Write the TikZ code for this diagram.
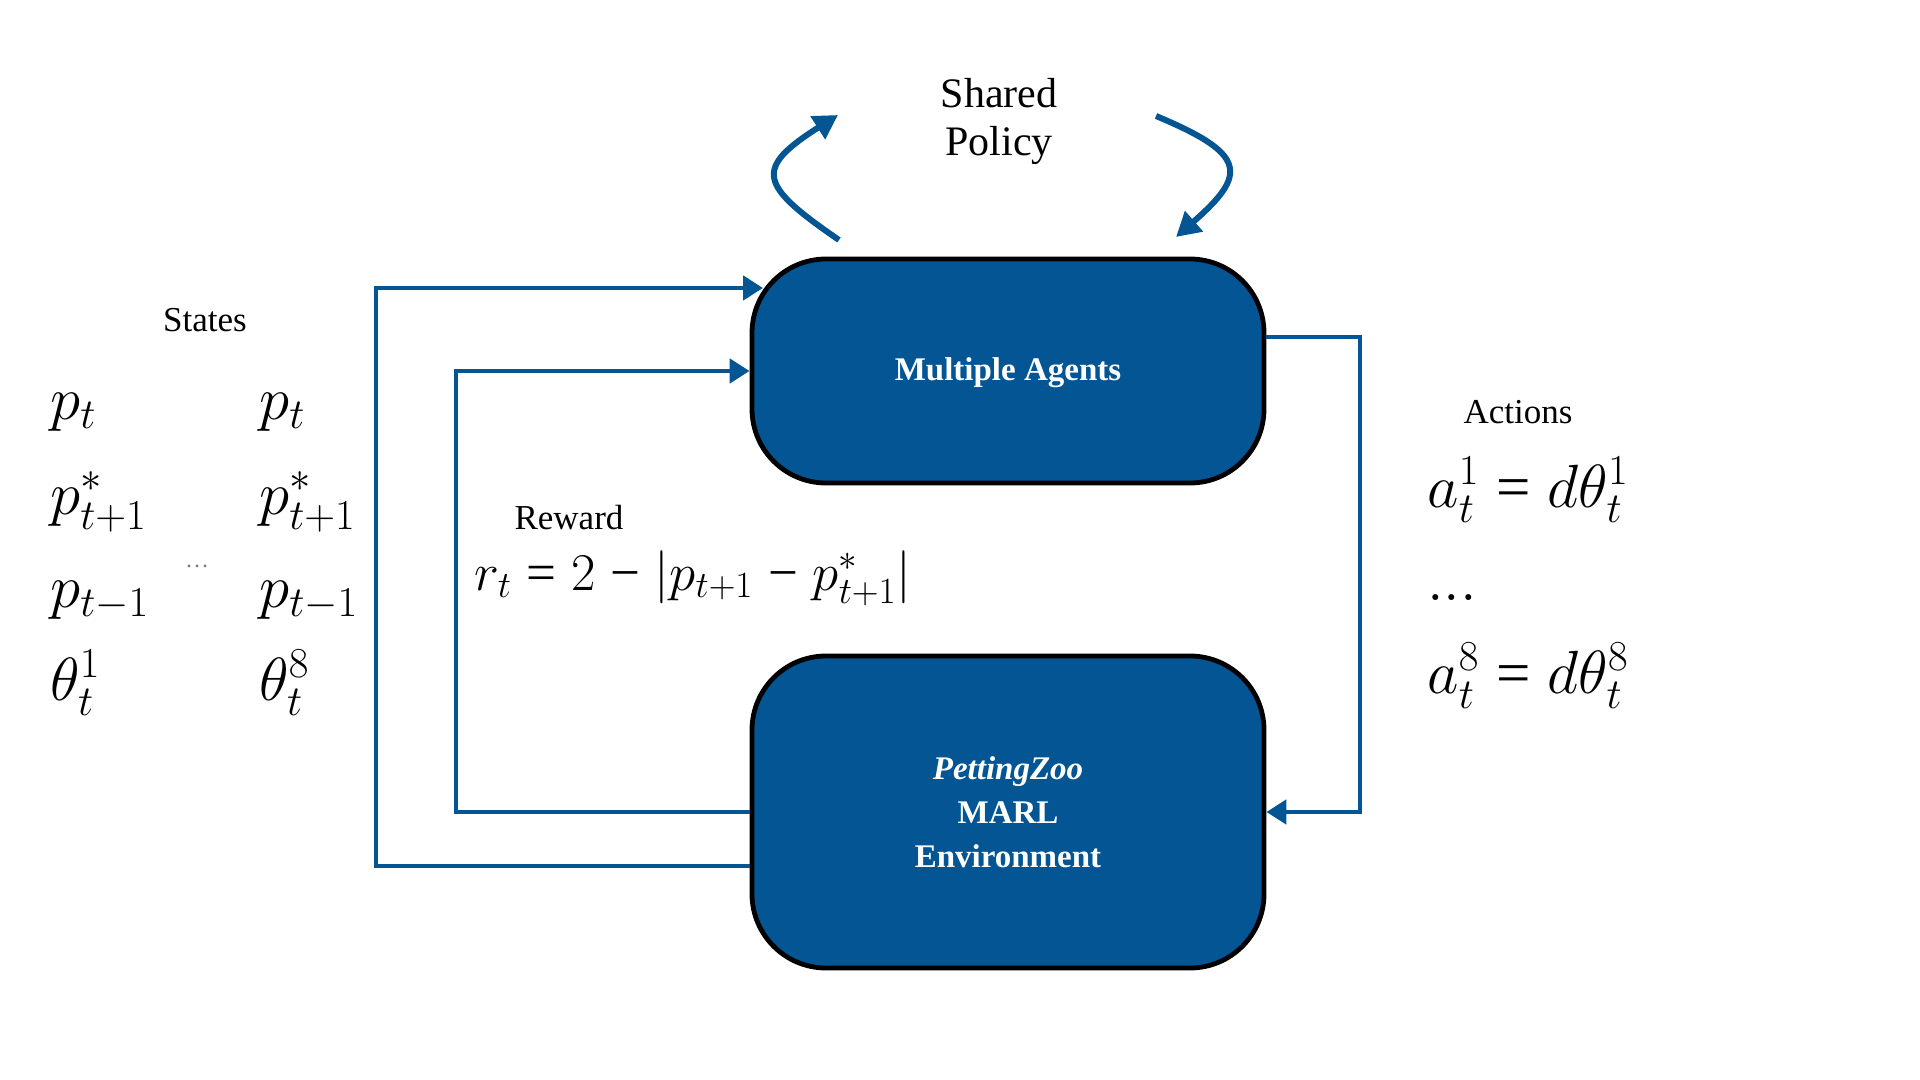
\RequirePackage{fix-cm}
\documentclass[tikz,border=0pt]{standalone}
\usepackage{fontspec}
\setmainfont{Liberation Serif}
\usetikzlibrary{arrows.meta}
\definecolor{mblue}{RGB}{3,85,148}
\newcommand{\teq}{\mathrel{\mbox{=}}}
\newcommand{\tminus}{\mathbin{\mbox{−}}}
\newcommand{\narrowops}{\thickmuskip=5mu\relax\medmuskip=5mu\relax}
\tikzset{
  box/.style={draw=black, line width=2.4pt, fill=mblue, rounded corners=37pt,
    minimum width=256pt, inner sep=0pt, text=white,
    font=\fontsize{16.5}{22}\selectfont\bfseries, align=center},
  flow/.style={draw=mblue, line width=2.4pt, line join=miter,
    -{Triangle[length=10pt,width=12pt]}},
  curv/.style={draw=mblue, line width=3pt, -{Triangle[length=12pt,width=13pt]}},
  lbl/.style={font=\fontsize{17.5}{21}\selectfont, inner sep=0pt},
  eq/.style={font=\fontsize{30.5}{36}\selectfont\narrowops,
    inner sep=0pt, anchor=base west},
  req/.style={font=\fontsize{26.5}{32}\selectfont\narrowops,
    inner sep=0pt, anchor=base west},
}
\begin{document}
\begin{tikzpicture}[x=0.5pt,y=-0.5pt]
\useasboundingbox (0,0) rectangle (1920,1080);

% boxes
\node[box, minimum height=112pt] (agents) at (1008,371) {\raisebox{-4.7pt}[0pt][0pt]{Multiple Agents}};
\node[box, minimum height=156pt] (env) at (1008,812) {\textit{PettingZoo}\\MARL\\Environment};

% shared policy
\node[font=\fontsize{21}{24}\selectfont, align=center, inner sep=0pt] (shared) at (999,121) {Shared\\Policy};
\coordinate (c1s) at (839,240);
\coordinate (c1e) at (838,115);
\coordinate (c2s) at (1156,116);
\coordinate (c2e) at (1176,237);
\draw[curv] (c1s) .. controls (759,185) and (753,169) .. (c1e);
\draw[curv] (c2s) .. controls (1247,154) and (1248,174) .. (c2e);

% connectors
\coordinate (aTop) at (763,288);
\draw[flow] ([yshift=-27pt]env.west) -| (376,288) -- (aTop);
\draw[flow] (env.west) -| (456,371) -- (agents.west);
\draw[flow] ([yshift=17pt]agents.east) -| (1360,812) -- (env.east);

% states
\node[lbl] (states) at (205,320) {States};
\node[eq] (s11) at (50,419) {$p_t$};
\node[eq] (s12) at (50,514) {$p^*_{t+1}$};
\node[eq] (s13) at (50,607) {$p_{t-1}$};
\node[eq] (s14) at (50,700) {$\theta^1_t$};
\node[eq] (s21) at (259,419) {$p_t$};
\node[eq] (s22) at (259,514) {$p^*_{t+1}$};
\node[eq] (s23) at (259,607) {$p_{t-1}$};
\node[eq] (s24) at (259,700) {$\theta^8_t$};
\node[font=\fontsize{12}{14}\selectfont, text=gray, inner sep=0pt] (sdots) at (197,566) {…};

% reward
\node[lbl] (reward) at (569,518) {Reward};
\node[req] (rew) at (474,590) {$r_t \teq 2 \tminus |p_{t+1} \tminus p^*_{t+1}|$};

% actions
\node[lbl] (actions) at (1518,412) {Actions};
\node[eq] (a1) at (1427,507) {$a^1_t \teq d\theta^1_t$};
\node[eq] (adots) at (1427,600) {$...$};
\node[eq] (a8) at (1427,693) {$a^8_t \teq d\theta^8_t$};
\end{tikzpicture}
\end{document}
